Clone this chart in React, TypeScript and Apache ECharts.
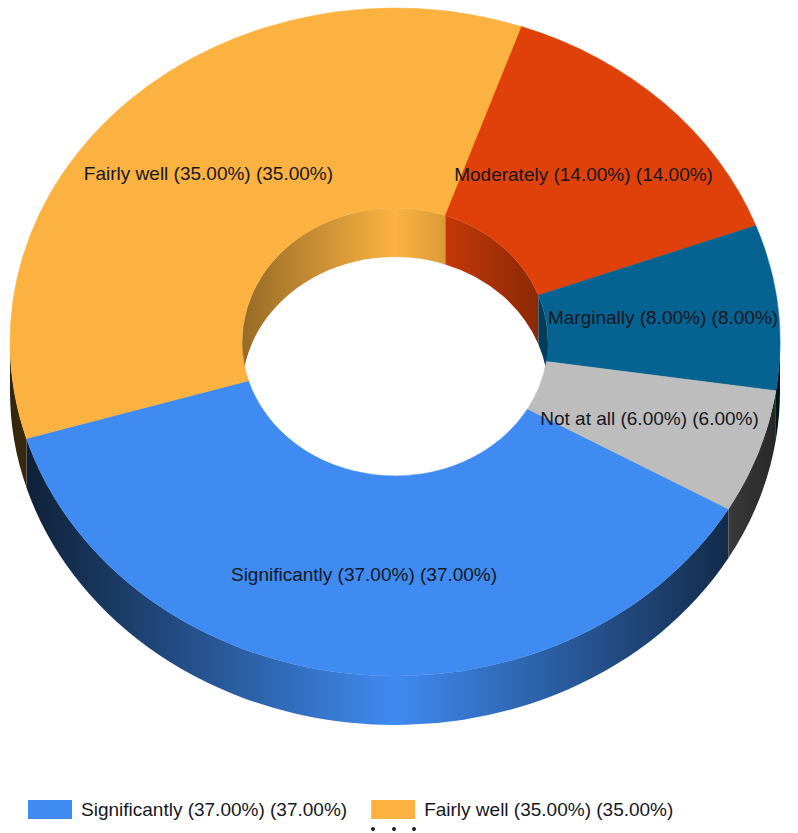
import React, { useEffect, useRef } from "react";
import * as echarts from "echarts";

const categories = ["Significantly", "Fairly well", "Moderately", "Marginally", "Not at all"];
const values = [37, 35, 14, 8, 6];
const colors = ["#3f8bf1", "#fcb241", "#e0410a", "#066391", "#bdbdbd"];
const legendCategories = ["Significantly", "Fairly well"];

const CX = 395;
const CY = 342;
const RX = 385;
const RY = 334;
const IRX = 153;
const IRY = 134;
const DEPTH = 49;
const START_DEG = 120;
const LABEL_K = 0.7;
const FONT = "'Liberation Sans', Arial, sans-serif";
const FONT_SIZE = 19;
const TEXT_COLOR = "#15181f";

const labelOf = (name: string, v: number) => `${name} (${v.toFixed(2)}%) (${v.toFixed(2)}%)`;

const total = values.reduce((a, b) => a + b, 0);

function pt(deg: number, rx: number, ry: number, dy = 0): [number, number] {
  const t = (deg * Math.PI) / 180;
  return [CX + rx * Math.sin(t), CY - ry * Math.cos(t) + dy];
}

function fmt(p: [number, number]) {
  return `${p[0].toFixed(2)} ${p[1].toFixed(2)}`;
}

function facePath(a: number, b: number) {
  const large = b - a > 180 ? 1 : 0;
  return (
    `M ${fmt(pt(a, RX, RY))} A ${RX} ${RY} 0 ${large} 1 ${fmt(pt(b, RX, RY))} ` +
    `L ${fmt(pt(b, IRX, IRY))} A ${IRX} ${IRY} 0 ${large} 0 ${fmt(pt(a, IRX, IRY))} Z`
  );
}

function wallPath(a: number, b: number, rx: number, ry: number) {
  const large = b - a > 180 ? 1 : 0;
  return (
    `M ${fmt(pt(a, rx, ry))} A ${rx} ${ry} 0 ${large} 1 ${fmt(pt(b, rx, ry))} ` +
    `L ${fmt(pt(b, rx, ry, DEPTH))} A ${rx} ${ry} 0 ${large} 0 ${fmt(pt(a, rx, ry, DEPTH))} Z`
  );
}

function shade(hex: string, f: number) {
  const n = parseInt(hex.slice(1), 16);
  const r = Math.round(((n >> 16) & 255) * f);
  const g = Math.round(((n >> 8) & 255) * f);
  const b = Math.round((n & 255) * f);
  return `rgb(${r},${g},${b})`;
}

function wallGradient(color: string, x0: number, x1: number, edge: number) {
  return new echarts.graphic.LinearGradient(
    x0, 0, x1, 0,
    [
      { offset: 0, color: shade(color, edge) },
      { offset: 0.5, color },
      { offset: 1, color: shade(color, edge) },
    ],
    true
  );
}

function overlap(a: number, b: number, lo: number, hi: number): [number, number] | null {
  const s = Math.max(a, lo);
  const e = Math.min(b, hi);
  return e > s ? [s, e] : null;
}

function sliceSeries(index: number) {
  const before = values.slice(0, index).reduce((a, b) => a + b, 0);
  const color = colors[index];
  return {
    type: "custom",
    name: labelOf(categories[index], values[index]),
    coordinateSystem: "none",
    silent: true,
    itemStyle: { color },
    data: [[values[index]]],
    renderItem: (_p: unknown, api: any) => {
      const v = api.value(0);
      const a = START_DEG + (before / total) * 360;
      const b = a + (v / total) * 360;
      const children: any[] = [];
      [[90, 270], [450, 630]].forEach(([lo, hi]) => {
        const o = overlap(a, b, lo, hi);
        if (o) {
          children.push({
            type: "path",
            z2: 1,
            shape: { pathData: wallPath(o[0], o[1], RX, RY) },
            style: { fill: wallGradient(color, CX - RX, CX + RX, 0.2) },
          });
        }
      });
      const inner = overlap(a, b, 270, 450);
      if (inner) {
        children.push({
          type: "path",
          z2: 2,
          shape: { pathData: wallPath(inner[0], inner[1], IRX, IRY) },
          style: { fill: wallGradient(color, CX - IRX, CX + IRX, 0.6) },
        });
      }
      children.push({
        type: "path",
        z2: 5,
        shape: { pathData: facePath(a, b) },
        style: { fill: color, stroke: color, lineWidth: 0.5 },
      });
      const mid = pt((a + b) / 2, RX * LABEL_K, RY * LABEL_K);
      children.push({
        type: "text",
        z2: 10,
        x: mid[0],
        y: mid[1],
        style: {
          text: labelOf(categories[index], v),
          fontFamily: FONT,
          fontSize: FONT_SIZE,
          fill: TEXT_COLOR,
          align: "center",
          verticalAlign: "middle",
        },
      });
      return { type: "group", children };
    },
  };
}

export default function App() {
  const ref = useRef<HTMLDivElement>(null);
  useEffect(() => {
    const chart = echarts.init(ref.current!, null, { renderer: "svg" });
    chart.setOption({
      animation: false,
      backgroundColor: "#ffffff",
      legend: {
        left: 28,
        top: 800,
        icon: "rect",
        itemWidth: 44,
        itemHeight: 19,
        itemGap: 24,
        padding: 0,
        selectedMode: false,
        textStyle: { fontFamily: FONT, fontSize: FONT_SIZE, color: TEXT_COLOR, padding: [0, 0, 0, 4] },
        data: legendCategories.map((c) => labelOf(c, values[categories.indexOf(c)])),
      },
      graphic: [373, 394, 414].map((x) => ({
        type: "circle",
        x,
        y: 829,
        shape: { r: 2 },
        style: { fill: "#222222" },
      })),
      series: categories.map((_, i) => sliceSeries(i)),
    });
    return () => chart.dispose();
  }, []);
  return <div ref={ref} style={{ position: "absolute", left: 0, top: 0, width: 798, height: 833 }} />;
}
